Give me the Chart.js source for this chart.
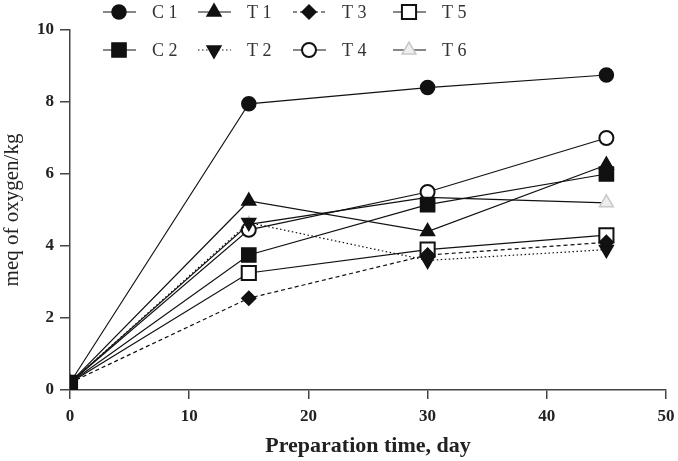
<!DOCTYPE html>
<html>
<head>
<meta charset="utf-8">
<script src="https://cdn.jsdelivr.net/npm/chart.js@4.4.1/dist/chart.umd.min.js"></script>
<style>
  body { margin: 0; background: #fff; }
  #wrap { width: 678px; height: 461px; }
</style>
</head>
<body>
<div id="wrap"><canvas id="peroxide"></canvas></div>
<script>
// preparation days and the peroxide value of each treatment (meq O2/kg)
let days = [0, 15, 30, 45];
let c1 = [0.2, 7.95, 8.4, 8.75];
let c2 = [0.2, 3.75, 5.15, 6.0];
let t1 = [0.2, 5.25, 4.4, 6.25];
let t2 = [0.2, 4.65, 3.6, 3.9];
let t3 = [0.2, 2.55, 3.75, 4.1];
let t4 = [0.2, 4.45, 5.5, 7.0];
let t5 = [0.2, 3.25, 3.9, 4.3];
let t6 = [0.2, 4.6, 5.35, 5.2];

let xTicks = [0, 10, 20, 30, 40, 50];
let yTicks = [0, 2, 4, 6, 8, 10];

function points(values) {
    return values.map((v, i) => ({ x: days[i], y: v }));
}

// one dataset per treatment, legend is laid out column by column
function series(label, values, style, extra) {
    return Object.assign({
        label: label,
        data: points(values),
        borderColor: '#111',
        borderWidth: 1.2,
        backgroundColor: '#111',
        pointBorderColor: '#111',
        pointBackgroundColor: '#111',
        pointBorderWidth: 1.5,
        pointStyle: style,
        pointRadius: 7,
        tension: 0,
    }, extra || {});
}

let datasets = [
    series('C 1', c1, 'circle', { legendCol: 0, legendRow: 0 }),
    series('C 2', c2, 'rect', { pointRadius: 10, legendCol: 0, legendRow: 1 }),
    series('T 1', t1, 'triangle', { pointRadius: 8, legendCol: 1, legendRow: 0 }),
    series('T 2', t2, 'triangle', { pointRadius: 8, pointRotation: 180, borderDash: [1.5, 2.5], legendCol: 1, legendRow: 1 }),
    series('T 3', t3, 'rectRot', { pointRadius: 7, borderDash: [4, 3], legendCol: 2, legendRow: 0 }),
    series('T 4', t4, 'circle', { pointBackgroundColor: '#fff', pointBorderWidth: 2, legendCol: 2, legendRow: 1 }),
    series('T 5', t5, 'rect', { pointRadius: 10, pointBackgroundColor: '#fff', pointBorderWidth: 2, legendCol: 3, legendRow: 0 }),
    series('T 6', t6, 'triangle', { pointRadius: 8, pointBackgroundColor: '#eeeeee', pointBorderColor: '#c8c8c8', legendCol: 3, legendRow: 1 }),
];

// legend drawn by hand: short line with the marker on it, two rows of four
let legendCols = [103, 198, 293, 393];
let legendRows = [12, 50];
const legendPlugin = {
    id: 'rowLegend',
    afterDraw(chart) {
        let ctx = chart.ctx;
        ctx.save();
        chart.data.datasets.forEach(ds => {
            let x = legendCols[ds.legendCol];
            let y = legendRows[ds.legendRow];
            ctx.strokeStyle = ds.borderColor;
            ctx.lineWidth = ds.borderWidth;
            ctx.setLineDash(ds.borderDash || []);
            ctx.beginPath();
            ctx.moveTo(x, y);
            ctx.lineTo(x + 33, y);
            ctx.stroke();
            ctx.setLineDash([]);
            ctx.fillStyle = ds.pointBackgroundColor;
            ctx.strokeStyle = ds.pointBorderColor;
            ctx.lineWidth = ds.pointBorderWidth;
            Chart.helpers.drawPoint(ctx, {
                pointStyle: ds.pointStyle,
                rotation: ds.pointRotation || 0,
                radius: ds.pointRadius,
                borderWidth: ds.pointBorderWidth
            }, x + 16, y);
            ctx.fillStyle = '#333';
            ctx.font = '18px "Liberation Serif"';
            ctx.textBaseline = 'middle';
            ctx.fillText(ds.label, x + 49, y + 1);
        });
        ctx.restore();
    }
};

let tickFont = { family: 'Liberation Serif', size: 17, weight: 'bold' };

let peroxideChart = new Chart(document.querySelector('#peroxide').getContext('2d'), {
    type: 'line',
    data: { datasets: datasets },
    plugins: [legendPlugin],
    options: {
        responsive: true,
        maintainAspectRatio: false,
        animation: false,
        layout: { padding: { top: 30, right: 0, left: 0, bottom: 0 } },
        plugins: {
            legend: { display: false },
            tooltip: { enabled: false },
        },
        scales: {
            x: {
                type: 'linear',
                min: 0,
                max: 50,
                afterBuildTicks: scale => { scale.ticks = xTicks.map(v => ({ value: v })); },
                // fixed box so the plot area sits where the original one does
                afterFit: scale => { scale.height = 71; scale.paddingRight = 5; scale.paddingLeft = 0; },
                ticks: { font: tickFont, color: '#222', padding: 7 },
                grid: { display: true, drawOnChartArea: false, tickLength: 9, color: '#444', lineWidth: 1.5 },
                border: { color: '#444', width: 1.5 },
                title: {
                    display: true,
                    text: 'Preparation time, day',
                    font: { family: 'Liberation Serif', size: 22, weight: 'bold' },
                    color: '#222',
                    padding: { top: 4, bottom: 1 }
                }
            },
            y: {
                min: 0,
                max: 10,
                afterBuildTicks: scale => { scale.ticks = yTicks.map(v => ({ value: v })); },
                afterFit: scale => { scale.width = 70; },
                ticks: { font: tickFont, color: '#222', padding: 6 },
                grid: { display: true, drawOnChartArea: false, tickLength: 10, color: '#444', lineWidth: 1.5 },
                border: { color: '#444', width: 1.5 },
                title: {
                    display: true,
                    text: 'meq of oxygen/kg',
                    font: { family: 'Liberation Serif', size: 21 },
                    color: '#222',
                    padding: { top: 0, bottom: 0 }
                }
            }
        }
    }
});
</script>
</body>
</html>
